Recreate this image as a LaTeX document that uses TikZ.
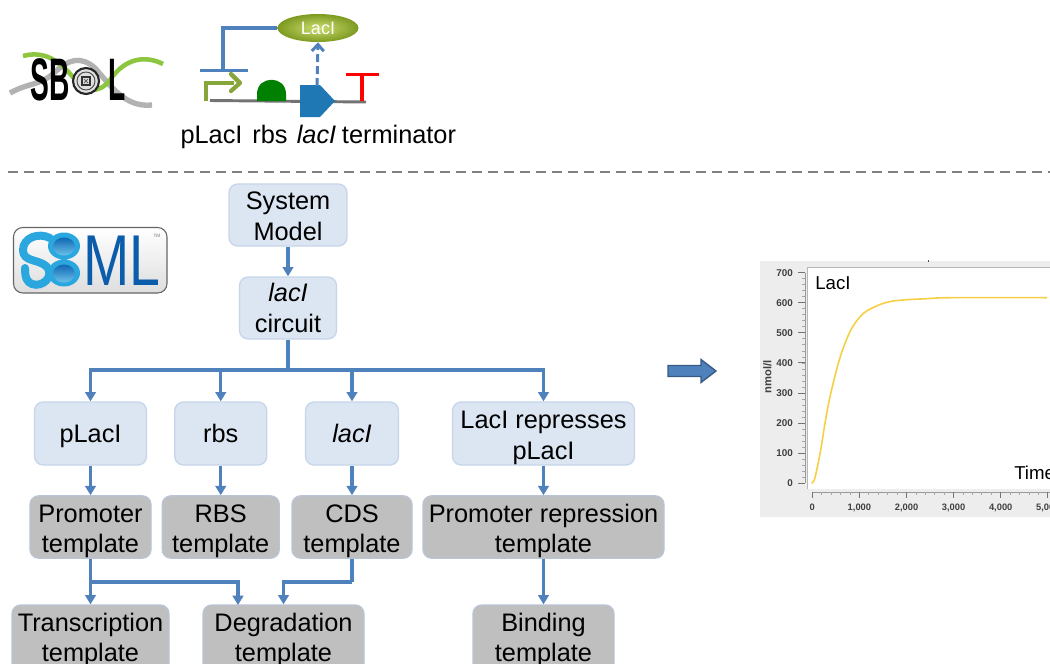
\documentclass[tikz,border=0pt]{standalone}
\usepackage{fontspec}
\setmainfont{Liberation Sans}
\usetikzlibrary{arrows.meta,shapes.geometric,shadings}
\definecolor{conn}{HTML}{4F81BD}
\definecolor{boxblue}{HTML}{DCE6F2}
\definecolor{boxline}{HTML}{C6D6EA}
\definecolor{boxgray}{HTML}{BFBFBF}
\definecolor{grayline}{HTML}{B9C4D4}
\definecolor{sbmlblue}{HTML}{0B5CAB}
\definecolor{sbmlcyan}{HTML}{2BA7E0}
\definecolor{cdsblue}{HTML}{1F78B4}
\definecolor{logogreen}{HTML}{8CC63F}
\definecolor{glyphgreen}{HTML}{86A63C}
\definecolor{protlight}{HTML}{CBDD70}
\definecolor{protdark}{HTML}{7D9A20}
\definecolor{curve}{HTML}{F7CF45}
\newcommand{\lowerby}[1]{\rule{0pt}{#1}}
\tikzset{
  blockbox/.style 2 args={draw=boxline,line width=1pt,fill=boxblue,rounded corners=6.5pt,minimum width=#1*0.75pt,minimum height=#2*0.75pt,inner sep=0pt,align=center,font=\fontsize{19}{23}\selectfont},
  graybox/.style 2 args={draw=grayline,line width=1pt,fill=boxgray,rounded corners=6.5pt,minimum width=#1*0.75pt,minimum height=#2*0.75pt,inner sep=0pt,align=center,font=\fontsize{19}{23}\selectfont},
  link/.style={draw=conn,line width=2.3pt,-{Triangle[width=8pt,length=7pt]}},
  plain link/.style={draw=conn,line width=2.3pt},
  glyphlabel/.style={inner sep=0pt,anchor=base,font=\fontsize{19}{23}\selectfont},
  tick label/.style={inner sep=0pt,text=black!75,font=\fontsize{7.4}{8}\bfseries\selectfont},
  plot label/.style={inner sep=0pt,font=\fontsize{14}{16}\selectfont},
}
\begin{document}
\begin{tikzpicture}[x=0.75pt,y=-0.75pt]
\clip (0,0) rectangle (1050,664);
\fill[white] (0,0) rectangle (1050,664);

% SBOL logo
\draw[black!30,line width=4pt] (10,93) .. controls (30,82) and (40,86) .. (55,72) .. controls (68,60) and (80,55) .. (95,68) .. controls (110,85) and (125,108) .. (152,105);
\draw[logogreen,line width=3.4pt] (23,56) .. controls (45,50) and (60,62) .. (72,76) .. controls (85,92) and (98,95) .. (110,80) .. controls (125,58) and (145,55) .. (163,64);
\node[inner sep=0pt,anchor=base west] (sbtext) at (30,100) {\scalebox{0.47}[1]{\fontsize{45}{45}\bfseries\selectfont SB}};
\node[inner sep=0pt,anchor=base west] (ltext) at (108,100) {\scalebox{0.47}[1]{\fontsize{45}{45}\bfseries\selectfont L}};
\fill[black!12,draw=black!85,line width=1.6pt] (86,81) circle (13);
\draw[black!70,line width=.7pt] (86,81) circle (9);
\draw[black!80,line width=1pt] (82,77) rectangle (90,85);
\draw[black!60,line width=.6pt] (84,79) -- (88,83) (88,79) -- (84,83);

% SBOL glyphs
\node[ellipse,minimum width=81*0.75pt,minimum height=28*0.75pt,inner sep=0pt,inner color=protlight,outer color=protdark,text=white,font=\fontsize{13.5}{16}\selectfont] (protein) at (318,28) {LacI};
\coordinate (barmid) at (223,70);
\coordinate (cdstop) at (317,86);
\draw[conn,line width=2.4pt] (protein.west) -| (barmid);
\draw[conn,line width=2.4pt] (200,70.5) -- (248,70.5);
\draw[black!55,line width=2.2pt] (210,100.5) -- (366,102);
\draw[glyphgreen,line width=3.2pt] (206,101) -- (206,83) -- (234,83);
\draw[glyphgreen,line width=3.2pt,line cap=round,line join=round] (231,74) -- (240,83) -- (231,91);
\fill[green!50!black] (257,101) -- (257,94) .. controls (257,75) and (286,75) .. (286,94) -- (286,101) -- cycle;
\fill[cdsblue] (300,85) -- (320,85) -- (335,101) -- (320,117) -- (300,117) -- cycle;
\draw[conn,line width=2.2pt,dash pattern=on 6pt off 3pt,-{Straight Barb[width=9pt,length=5pt]}] (cdstop) -- (protein.south);
\draw[red,line width=2.4pt] (346,74.5) -- (379,74.5) (362,75) -- (362,101);
\node[glyphlabel] (lpl) at (211.5,143) {pLacI};
\node[glyphlabel] (lrb) at (270,143) {rbs};
\node[glyphlabel] (llc) at (316.5,143) {\itshape lacI};
\node[glyphlabel] (ltm) at (399,143) {terminator};

% dashed separator
\draw[black!50,line width=1.5pt,dash pattern=on 7.5pt off 4.5pt] (8,172) -- (1050,172);

% SBML logo
\draw[black!60,line width=.8pt,rounded corners=7pt,top color=white,bottom color=black!13] (13.5,227.5) rectangle (167,293);
\draw[sbmlcyan,line width=6pt,line cap=round] (50,238) .. controls (38,232) and (23,238) .. (23,250) .. controls (23,262) and (38,259) .. (46,266) .. controls (56,276) and (42,288) .. (32,284) .. controls (27,282) and (25,278) .. (25,268);
\fill[sbmlcyan] (64,246) ellipse (16 and 13.5) (64,273) ellipse (16 and 13.5);
\shade[top color=sbmlblue!85!sbmlcyan,bottom color=sbmlcyan!70!white] (64,246.5) ellipse (11 and 9);
\shade[top color=sbmlblue!85!sbmlcyan,bottom color=sbmlcyan!70!white] (64,273.5) ellipse (11 and 9);
\node[inner sep=0pt,anchor=base west,text=sbmlblue] (mltext) at (83,285) {\scalebox{0.77}[1]{\fontsize{54}{54}\selectfont ML}};
\node[inner sep=0pt,text=black!55,font=\fontsize{3.5}{4}\selectfont] (tm) at (157,236) {TM};

% Diagram nodes
\node[blockbox={118}{62}] (sys) at (288,215) {\lowerby{15.2pt}System\\Model};
\node[blockbox={97}{62}] (cir) at (288,308) {\itshape lacI\\circuit};
\node[blockbox={112}{63}] (p) at (90.5,433.5) {\lowerby{18pt}pLacI};
\node[blockbox={92}{63}] (r) at (220.75,433.5) {rbs};
\node[blockbox={93}{63}] (l) at (352,433.5) {\itshape lacI};
\node[blockbox={182}{63}] (rep) at (543.5,433.5) {\lowerby{19.8pt}LacI represses\\pLacI};
\node[graybox={121}{62}] (pt) at (90.5,527) {\lowerby{19.8pt}Promoter\\template};
\node[graybox={117}{62}] (rt) at (220.75,527) {\lowerby{19.8pt}RBS\\template};
\node[graybox={120}{62}] (ct) at (352,527) {\lowerby{19.8pt}CDS\\template};
\node[graybox={241}{62}] (prt) at (543.5,527) {\lowerby{19.8pt}Promoter repression\\template};
\node[graybox={157}{70}] (tt) at (90.5,640) {Transcription\\template};
\node[graybox={161}{70}] (dt) at (283.5,640) {Degradation\\template};
\node[graybox={141}{70}] (bt) at (543.5,640) {Binding\\template};

\coordinate (bus) at (288,370);
\coordinate (pj) at (90.5,582);
\coordinate (dl) at (238,605);
\coordinate (cj) at (352,582);

\draw[link] (sys) -- (cir);
\draw[plain link] (cir) -- (bus);
\draw[link] (bus) -| (p);
\draw[link] (bus) -| (r);
\draw[link] (bus) -| (l);
\draw[link] (bus) -| (rep);
\draw[link] (p) -- (pt);
\draw[link] (r) -- (rt);
\draw[link] (l) -- (ct);
\draw[link] (rep) -- (prt);
\draw[link] (pt) -- (tt);
\draw[link] (pj) -| (dl);
\draw[plain link] (ct.south) -- (cj);
\draw[link] (cj) -| (dt.north);
\draw[link] (prt) -- (bt);

% block arrow
\draw[fill=conn,draw=conn!70!black,line width=1pt] (668,365.5) -- (701,365.5) -- (701,359.5) -- (716,371) -- (701,382.5) -- (701,376.5) -- (668,376.5) -- cycle;

% plot
\fill[black!7] (760,261) rectangle (1050,517);
\fill[white] (807,267) rectangle (1050,489);
\draw[black!28,line width=1.4pt] (807.5,489) -- (807.5,267.5) -- (1050,267.5);
\fill[black!70] (927.5,260) rectangle (929,262);
\draw[black!40,line width=.6pt] (805,272.7) -- (805,483.3);
\foreach \v in {0,20,...,700} \draw[black!35,line width=.6pt] (802,{483.3-\v*0.3009}) -- (805,{483.3-\v*0.3009});
\foreach \v in {0,100,...,700} {
  \draw[black!55,line width=.7pt] (798,{483.3-\v*0.3009}) -- (805,{483.3-\v*0.3009});
  \node[tick label,anchor=east] (yl\v) at (793,{483.3-\v*0.3009}) {\v};
}
\draw[black!40,line width=.6pt] (812.3,492) -- (1050,492);
\foreach \v in {0,200,...,5000} \draw[black!35,line width=.6pt] ({812.3+\v*0.0471},492) -- ({812.3+\v*0.0471},495);
\foreach \v/\t in {0/0,1000/{1,000},2000/{2,000},3000/{3,000},4000/{4,000},5000/{5,000}} {
  \draw[black!55,line width=.7pt] ({812.3+\v*0.0471},492) -- ({812.3+\v*0.0471},498);
  \node[tick label,font=\fontsize{7}{8}\bfseries\selectfont] (xl\v) at ({812.3+\v*0.0471},507.5) {\t};
}
\node[tick label,rotate=90,font=\fontsize{8.4}{9}\bfseries\selectfont] (ylab) at (767.5,377) {nmol/l};
\node[plot label,anchor=base west] (ptitle) at (815,289) {LacI};
\node[plot label,anchor=base west] (ptime) at (1014,479) {Time};
\draw[curve,line width=1.2pt] plot[smooth,tension=.5] coordinates {(811.7,483.3) (814.3,480) (816.7,470) (820.7,450) (825,423.3) (830,396.7) (838.3,363.3) (845,343.3) (851.7,328.3) (860,316.7) (866.7,311) (875,306.7) (883.3,303.3) (893.3,301) (906.7,299.7) (926.7,298.7) (950,297.7) (1047,297.7)};
\end{tikzpicture}
\end{document}
